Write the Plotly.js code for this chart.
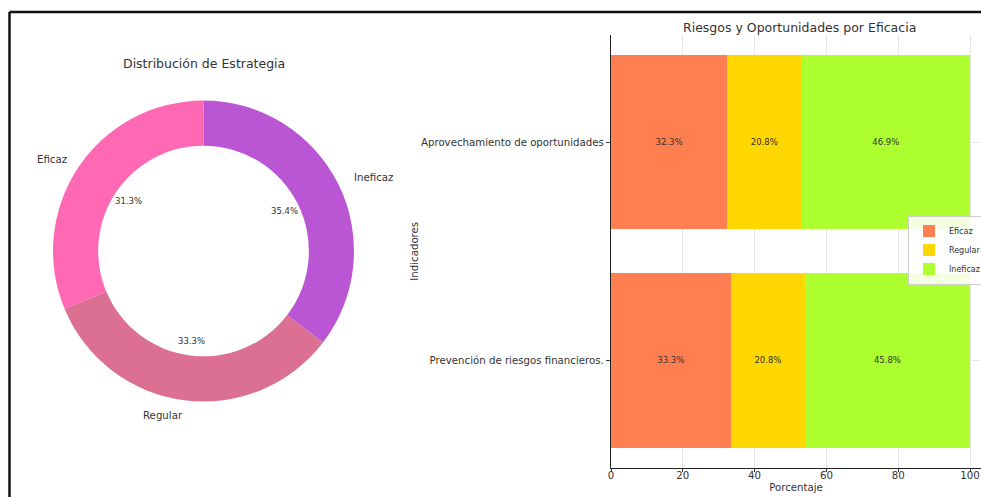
<!DOCTYPE html>
<html>
<head>
<meta charset="utf-8">
<script src="https://cdn.plot.ly/plotly-3.0.1.min.js"></script>
<style>
  html, body { margin: 0; padding: 0; background: #fff; }
  #chart { width: 981px; height: 497px; }
</style>
</head>
<body>
<div id="chart"></div>
<script>
// Donut: share of each strategy rating (%)
const estrategia = ["Eficaz", "Regular", "Ineficaz"];
const estrategiaPct = [31.3, 33.3, 35.4];
const estrategiaColores = ["#FF69B4", "#DB7093", "#BA55D3"];

// Stacked bars: rating split per indicator (%), bottom row first
const indicadores = ["Prevención de riesgos financieros.", "Aprovechamiento de oportunidades"];
const eficaz = [33.3, 32.3];
const regular = [20.8, 20.8];
const ineficaz = [45.8, 46.9];
const barColores = { Eficaz: "#FF7F50", Regular: "#FFD700", Ineficaz: "#ADFF2F" };
const xTicks = [0, 20, 40, 60, 80, 100];

const W = 981, H = 497;
const FONT = "DejaVu Sans, Liberation Sans, sans-serif";
const TXT = "#333";
const px = x => x / W;
const py = y => 1 - y / H;

// Donut placement (pixels)
const pie = { left: 53, right: 354, top: 100, bottom: 402, hole: 0.7 };
const cx = (pie.left + pie.right) / 2;
const cy = (pie.top + pie.bottom) / 2;
const R = Math.min(pie.right - pie.left, pie.bottom - pie.top) / 2;

// Bar axes placement (pixels)
const bars = { left: 611, top: 35, bottom: 467.5, pxPerUnit: 3.59 };

const barTrace = (name, vals) => ({
  type: "bar",
  orientation: "h",
  name: name,
  y: indicadores,
  x: vals,
  marker: { color: barColores[name], line: { width: 0 } },
  text: vals.map(v => v.toFixed(1) + "%"),
  textposition: "inside",
  insidetextanchor: "middle",
  textangle: 0,
  constraintext: "none",
  textfont: { family: FONT, size: 8.5, color: TXT },
  hoverinfo: "skip",
  xaxis: "x",
  yaxis: "y"
});

// Slices laid clockwise from 12 o'clock in reverse order, so that read
// counter-clockwise they go Eficaz -> Regular -> Ineficaz starting at the top.
const data = [
  {
    type: "pie",
    labels: estrategia.slice().reverse(),
    values: estrategiaPct.slice().reverse(),
    marker: { colors: estrategiaColores.slice().reverse(), line: { width: 0 } },
    hole: pie.hole,
    sort: false,
    direction: "clockwise",
    rotation: 0,
    textinfo: "none",
    hoverinfo: "skip",
    showlegend: false,
    domain: { x: [px(pie.left), px(pie.right)], y: [py(pie.bottom), py(pie.top)] }
  },
  barTrace("Eficaz", eficaz),
  barTrace("Regular", regular),
  barTrace("Ineficaz", ineficaz)
];

// Donut labels (outside, r = 1.1) and percentages (r = 0.6), placed from the slice angles
const annotations = [];
const total = estrategiaPct.reduce((a, b) => a + b, 0);
let startDeg = 90;
estrategiaPct.forEach((v, i) => {
  const span = v / total * 360;
  const mid = (startDeg + span / 2) * Math.PI / 180;
  startDeg += span;
  const c = Math.cos(mid), s = Math.sin(mid);
  annotations.push({
    xref: "paper", yref: "paper",
    x: px(cx + 1.1 * R * c + (c < 0 ? 3 : 0)), y: py(cy - 1.1 * R * s),
    xanchor: c < 0 ? "right" : "left", yanchor: "middle",
    text: estrategia[i], showarrow: false,
    font: { family: FONT, size: 10.2, color: TXT }
  });
  annotations.push({
    xref: "paper", yref: "paper",
    x: px(cx + 0.6 * R * c), y: py(cy - 0.6 * R * s),
    xanchor: "center", yanchor: "middle",
    text: (v / total * 100).toFixed(1) + "%", showarrow: false,
    font: { family: FONT, size: 8.5, color: TXT }
  });
});

// Panel titles
annotations.push({
  xref: "paper", yref: "paper", x: px(cx), y: py(63),
  xanchor: "center", yanchor: "middle", showarrow: false,
  text: "Distribución de Estrategia",
  font: { family: FONT, size: 12.5, color: TXT }
});
annotations.push({
  xref: "paper", yref: "paper", x: px(bars.left + 50 * bars.pxPerUnit + 9), y: py(27),
  xanchor: "center", yanchor: "middle", showarrow: false,
  text: "Riesgos y Oportunidades por Eficacia",
  font: { family: FONT, size: 12.5, color: TXT }
});

const layout = {
  width: W,
  height: H,
  margin: { l: 0, r: 0, t: 0, b: 0, pad: 0, autoexpand: false },
  paper_bgcolor: "#fff",
  plot_bgcolor: "#fff",
  font: { family: FONT, size: 10.2, color: TXT },
  barmode: "stack",
  bargap: 0.2,
  showlegend: true,
  legend: {
    x: px(908), y: py(250), xanchor: "left", yanchor: "middle",
    traceorder: "normal",
    bgcolor: "rgba(255,255,255,0.85)",
    bordercolor: "#cccccc", borderwidth: 1,
    font: { family: FONT, size: 8, color: TXT },
    itemwidth: 30,
    tracegroupgap: 0
  },
  xaxis: {
    domain: [px(bars.left), 1],
    range: [0, (W - bars.left) / bars.pxPerUnit],
    tickvals: xTicks,
    ticktext: xTicks.map(String),
    ticks: "outside", ticklen: 3.5, tickcolor: "#333",
    ticklabelstandoff: -5,
    showline: true, linecolor: "#222", linewidth: 1.2,
    showgrid: true, gridcolor: "#e6e6e6", gridwidth: 1,
    zeroline: false,
    tickfont: { family: FONT, size: 10.2, color: TXT },
    title: { text: "Porcentaje", font: { family: FONT, size: 10.2, color: TXT }, standoff: 3 },
    anchor: "y",
    fixedrange: true
  },
  yaxis: {
    domain: [py(bars.bottom), py(bars.top)],
    type: "category",
    categoryorder: "array",
    categoryarray: indicadores,
    range: [-0.49, 1.49],
    ticks: "outside", ticklen: 4, tickcolor: "#333",
    showline: true, linecolor: "#222", linewidth: 1.2,
    showgrid: true, gridcolor: "#e6e6e6", gridwidth: 1,
    tickfont: { family: FONT, size: 10.2, color: TXT },
    title: { text: "Indicadores", font: { family: FONT, size: 10.2, color: TXT }, standoff: 0 },
    automargin: false,
    anchor: "x",
    fixedrange: true
  },
  annotations: annotations,
  shapes: [
    { type: "line", xref: "paper", yref: "paper", x0: px(9.5), x1: px(W), y0: py(12), y1: py(12),
      line: { color: "#111", width: 2.5 } },
    { type: "line", xref: "paper", yref: "paper", x0: px(9.5), x1: px(9.5), y0: py(12), y1: py(H),
      line: { color: "#111", width: 2.5 } }
  ]
};

Plotly.newPlot("chart", data, layout, { displayModeBar: false, staticPlot: true });
</script>
</body>
</html>
